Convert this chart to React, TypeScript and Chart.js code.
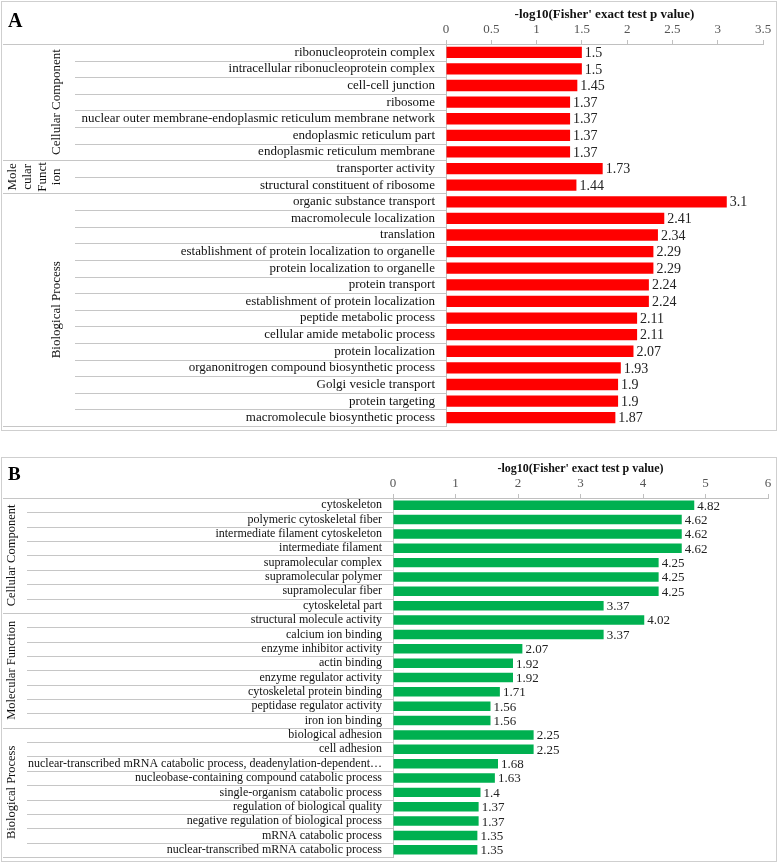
import React, { useEffect, useRef } from "react";
import { Chart, registerables } from "chart.js";
Chart.register(...registerables);

// ---------- Panel A data ----------
const aCategories = [
  "ribonucleoprotein complex",
  "intracellular ribonucleoprotein complex",
  "cell-cell junction",
  "ribosome",
  "nuclear outer membrane-endoplasmic reticulum membrane network",
  "endoplasmic reticulum part",
  "endoplasmic reticulum membrane",
  "transporter activity",
  "structural constituent of ribosome",
  "organic substance transport",
  "macromolecule localization",
  "translation",
  "establishment of protein localization to organelle",
  "protein localization to organelle",
  "protein transport",
  "establishment of protein localization",
  "peptide metabolic process",
  "cellular amide metabolic process",
  "protein localization",
  "organonitrogen compound biosynthetic process",
  "Golgi vesicle transport",
  "protein targeting",
  "macromolecule biosynthetic process",
];
const aValues = [1.5, 1.5, 1.45, 1.37, 1.37, 1.37, 1.37, 1.73, 1.44, 3.1, 2.41, 2.34, 2.29, 2.29, 2.24, 2.24, 2.11, 2.11, 2.07, 1.93, 1.9, 1.9, 1.87];
const aGroupLabels = [["Cellular Component"], ["Mole", "cular", "Funct", "ion"], ["Biological Process"]];
const aGroupSizes = [7, 2, 14];
const aAxisMax = 3.5;
const aAxisStep = 0.5;

// ---------- Panel B data ----------
const bCategories = [
  "cytoskeleton",
  "polymeric cytoskeletal fiber",
  "intermediate filament cytoskeleton",
  "intermediate filament",
  "supramolecular complex",
  "supramolecular polymer",
  "supramolecular fiber",
  "cytoskeletal part",
  "structural molecule activity",
  "calcium ion binding",
  "enzyme inhibitor activity",
  "actin binding",
  "enzyme regulator activity",
  "cytoskeletal protein binding",
  "peptidase regulator activity",
  "iron ion binding",
  "biological adhesion",
  "cell adhesion",
  "nuclear-transcribed mRNA catabolic process, deadenylation-dependent…",
  "nucleobase-containing compound catabolic process",
  "single-organism catabolic process",
  "regulation of biological quality",
  "negative regulation of biological process",
  "mRNA catabolic process",
  "nuclear-transcribed mRNA catabolic process",
];
const bValues = [4.82, 4.62, 4.62, 4.62, 4.25, 4.25, 4.25, 3.37, 4.02, 3.37, 2.07, 1.92, 1.92, 1.71, 1.56, 1.56, 2.25, 2.25, 1.68, 1.63, 1.4, 1.37, 1.37, 1.35, 1.35];
const bGroupLabels = [["Cellular Component"], ["Molecular Function"], ["Biological Process"]];
const bGroupSizes = [8, 8, 9];
const bAxisMax = 6;
const bAxisStep = 1;

const axisTitle = "-log10(Fisher' exact test p value)";
const SERIF = "'Liberation Serif', 'Times New Roman', serif";

type PanelOpts = {
  letter: string;
  letterSize: number;
  letterY: number;
  categories: string[];
  values: number[];
  groupLabels: string[][];
  groupSizes: number[];
  max: number;
  step: number;
  color: string;
  width: number;
  height: number;
  yAxisWidth: number;
  xAxisHeight: number;
  padRight: number;
  padBottom: number;
  rowLineStart: number;
  groupLabelX: number;
  groupLabelSize: number;
  labelSize: number;
  valueSize: number;
  titleSize: number;
  titlePadTop: number;
  barPct: number;
};

function makeChart(canvas: HTMLCanvasElement, o: PanelOpts) {
  const decor = {
    id: "decor",
    afterDraw(chart: any) {
      const ctx = chart.ctx as CanvasRenderingContext2D;
      const ys = chart.scales.y;
      const area = chart.chartArea;
      const n = o.categories.length;
      const pix = (i: number) => ys.getPixelForValue(i);
      const boundary = (i: number) => {
        if (i <= 0) return area.top;
        if (i >= n) return area.bottom;
        return (pix(i - 1) + pix(i)) / 2;
      };
      const groupEdges = new Set<number>([0]);
      let acc = 0;
      o.groupSizes.forEach((s) => {
        acc += s;
        groupEdges.add(acc);
      });
      ctx.save();
      ctx.strokeStyle = "#c6c6c6";
      ctx.lineWidth = 1;
      for (let i = 0; i <= n; i++) {
        const y = Math.round(boundary(i)) + 0.5;
        const x0 = groupEdges.has(i) ? 3 : o.rowLineStart;
        ctx.beginPath();
        ctx.moveTo(x0, y);
        ctx.lineTo(area.left, y);
        ctx.stroke();
      }
      // group labels
      ctx.fillStyle = "#111";
      ctx.font = `${o.groupLabelSize}px ${SERIF}`;
      ctx.textAlign = "center";
      ctx.textBaseline = "middle";
      let start = 0;
      o.groupLabels.forEach((lines, gi) => {
        const end = start + o.groupSizes[gi];
        const cy = (boundary(start) + boundary(end)) / 2;
        const lh = o.groupLabelSize * 1.14;
        lines.forEach((line, li) => {
          const cx = o.groupLabelX - (lines.length - 1 - li) * lh;
          ctx.save();
          ctx.translate(cx, cy);
          ctx.rotate(-Math.PI / 2);
          ctx.fillText(line, 0, 0);
          ctx.restore();
        });
        start = end;
      });
      // value labels
      const meta = chart.getDatasetMeta(0);
      ctx.font = `${o.valueSize}px ${SERIF}`;
      ctx.textAlign = "left";
      ctx.fillStyle = "#222";
      meta.data.forEach((bar: any, i: number) => {
        ctx.fillText(String(o.values[i]), bar.x + 3, bar.y + 1);
      });
      // panel letter
      ctx.font = `bold ${o.letterSize}px ${SERIF}`;
      ctx.textBaseline = "alphabetic";
      ctx.fillStyle = "#000";
      ctx.fillText(o.letter, 8, o.letterY);
      ctx.restore();
    },
  };

  return new Chart(canvas, {
    type: "bar",
    data: {
      labels: o.categories,
      datasets: [
        {
          data: o.values,
          backgroundColor: o.color,
          borderWidth: 0,
          categoryPercentage: 1,
          barPercentage: o.barPct,
        },
      ],
    },
    options: {
      indexAxis: "y",
      responsive: false,
      animation: false,
      layout: { padding: { left: 0, top: 0, right: o.padRight, bottom: o.padBottom } },
      plugins: { legend: { display: false }, tooltip: { enabled: false } },
      scales: {
        x: {
          position: "top",
          min: 0,
          max: o.max,
          afterFit: (s: any) => {
            s.height = o.xAxisHeight;
          },
          ticks: {
            stepSize: o.step,
            color: "#555",
            padding: 3,
            font: { family: SERIF, size: 13 },
            callback: (v: any) => String(Math.round(Number(v) * 100) / 100),
          },
          grid: { drawOnChartArea: false, drawTicks: true, tickLength: 4, color: "#c0c0c0" },
          border: { display: true, color: "#c0c0c0" },
          title: {
            display: true,
            text: axisTitle,
            color: "#111",
            font: { family: SERIF, size: o.titleSize, weight: "bold" },
            padding: { top: o.titlePadTop, bottom: 0 },
          },
        },
        y: {
          afterFit: (s: any) => {
            s.width = o.yAxisWidth;
            s.paddingTop = 0;
            s.paddingBottom = 0;
          },
          ticks: {
            autoSkip: false,
            padding: 11,
            color: "#111",
            font: { family: SERIF, size: o.labelSize },
          },
          grid: { display: false, drawTicks: false },
          border: { display: true, color: "#c0c0c0" },
        },
      },
    },
    plugins: [decor],
  } as any);
}

function Panel({ o, top }: { o: PanelOpts; top: number }) {
  const ref = useRef<HTMLCanvasElement | null>(null);
  useEffect(() => {
    if (!ref.current) return;
    const c = makeChart(ref.current, o);
    return () => c.destroy();
  }, []);
  return (
    <canvas
      ref={ref}
      width={o.width}
      height={o.height}
      style={{ position: "absolute", left: 0, top, width: o.width, height: o.height }}
    />
  );
}

const panelA: PanelOpts = {
  letter: "A",
  letterSize: 20,
  letterY: 27,
  categories: aCategories,
  values: aValues,
  groupLabels: aGroupLabels,
  groupSizes: aGroupSizes,
  max: aAxisMax,
  step: aAxisStep,
  color: "#ff0000",
  width: 778,
  height: 431,
  yAxisWidth: 446,
  xAxisHeight: 44,
  padRight: 15,
  padBottom: 5,
  rowLineStart: 75,
  groupLabelX: 57,
  groupLabelSize: 13,
  labelSize: 13,
  valueSize: 14,
  titleSize: 13,
  titlePadTop: 7,
  barPct: 0.68,
};

const panelB: PanelOpts = {
  letter: "B",
  letterSize: 19,
  letterY: 40,
  categories: bCategories,
  values: bValues,
  groupLabels: bGroupLabels,
  groupSizes: bGroupSizes,
  max: bAxisMax,
  step: bAxisStep,
  color: "#00b050",
  width: 778,
  height: 422,
  yAxisWidth: 393,
  xAxisHeight: 58,
  padRight: 10,
  padBottom: 5,
  rowLineStart: 27,
  groupLabelX: 12,
  groupLabelSize: 12.5,
  labelSize: 12,
  valueSize: 13,
  titleSize: 12,
  titlePadTop: 22,
  barPct: 0.66,
};

export default function App() {
  return (
    <div style={{ position: "absolute", left: 0, top: 0, width: 778, height: 862, background: "#fff" }}>
      <div
        style={{
          position: "absolute",
          left: 1,
          top: 1,
          width: 776,
          height: 430,
          boxSizing: "border-box",
          border: "1px solid #cfcfcf",
        }}
      />
      <div
        style={{
          position: "absolute",
          left: 1,
          top: 457,
          width: 776,
          height: 405,
          boxSizing: "border-box",
          border: "1px solid #cfcfcf",
        }}
      />
      <Panel o={panelA} top={0} />
      <Panel o={panelB} top={440} />
    </div>
  );
}
